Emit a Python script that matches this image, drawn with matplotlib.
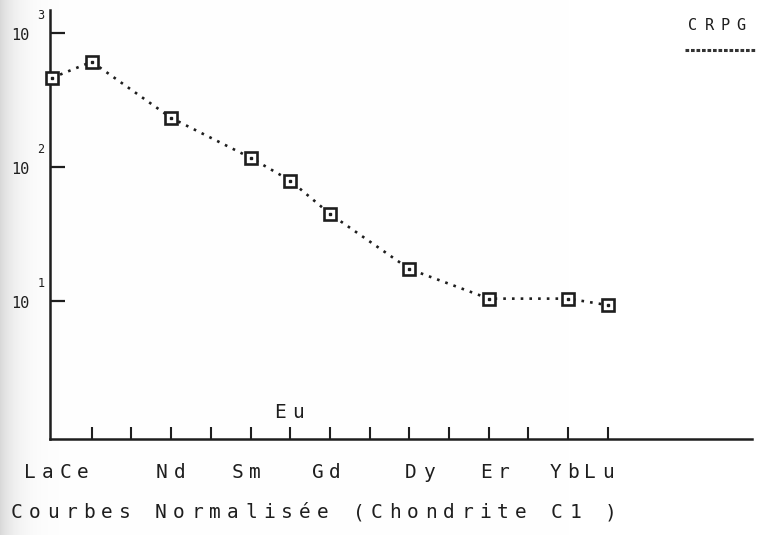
import numpy as np
import matplotlib.pyplot as plt
import matplotlib.transforms as mtransforms
from matplotlib.lines import Line2D

# --- REE normalised to chondrite C1 ---
elements = ['La', 'Ce', 'Nd', 'Sm', 'Eu', 'Gd', 'Dy', 'Er', 'Yb', 'Lu']
atomic_number = [57, 58, 60, 62, 63, 64, 66, 68, 70, 71]
normalised = [461, 608, 232, 117, 79, 44.6, 17.3, 10.4, 10.4, 9.3]

# tick marks along the axis: Ce .. Lu
tick_z = [58, 59, 60, 61, 62, 63, 64, 65, 66, 67, 68, 69, 70, 71]

# plotter labels under the axis (label text, x of first character)
axis_labels = ['LaCe', 'Nd', 'Sm', 'Gd', 'Dy', 'Er', 'YbLu']
axis_label_x = [56.45, 59.77, 61.68, 63.69, 66.04, 67.93, 69.67]

y_ticks = [10, 100, 1000]
y_exponents = ['1', '2', '3']

W, H = 757, 535
INK = '#1e1e1e'
FONT = 'DejaVu Sans Mono'

fig = plt.figure(figsize=(W / 100, H / 100), dpi=100)

# scanned paper: greyish band on the left margin
xs = np.arange(W)
shade = 1 - 0.15 * np.exp(-xs / 16.0)
bg = np.repeat(np.repeat(shade[None, :, None], H, axis=0), 3, axis=2)
fig.figimage(bg, 0, 0, zorder=-5)

ax = fig.add_axes([50 / W, 96 / H, 702 / W, 429 / H])
ax.set_zorder(2)
ax.patch.set_visible(False)
ax.set_yscale('log')
ax.set_xlim(56.95, 74.63)
ax.set_ylim(10 ** -0.03, 10 ** 3.17)

for side in ['top', 'right']:
    ax.spines[side].set_visible(False)
for side in ['left', 'bottom']:
    ax.spines[side].set_linewidth(1.8)
    ax.spines[side].set_color(INK)

ax.set_xticks(tick_z)
ax.set_xticklabels([])
ax.tick_params(axis='x', direction='in', length=8.5, width=1.5, color=INK)
ax.set_yticks(y_ticks)
ax.set_yticklabels([])
ax.yaxis.set_minor_locator(plt.NullLocator())
ax.tick_params(axis='y', direction='in', length=11, width=1.6, color=INK)

# dotted curve + square markers with centre dot
ax.plot(atomic_number, normalised, color=INK, lw=1.9, linestyle=(0, (1, 2.3)),
        zorder=2, clip_on=False)
ax.plot(atomic_number, normalised, linestyle='none', marker='s', ms=9.3,
        mfc='white', mec=INK, mew=1.9, zorder=3, clip_on=False)
ax.plot(atomic_number, normalised, linestyle='none', marker='s', ms=1.6,
        mfc=INK, mec=INK, zorder=4, clip_on=False)


def spaced_text(trans, x, y, s, pitch, size):
    # plotter style lettering: one character per cell
    for i, ch in enumerate(s):
        if ch == ' ':
            continue
        t = mtransforms.offset_copy(trans, fig=fig, x=i * pitch, y=0, units='dots')
        fig.text(x, y, ch, transform=t, ha='center', va='center',
                 fontsize=size, family=FONT, color=INK, zorder=3)


xaxis_tr = ax.get_xaxis_transform()
for lab, x0 in zip(axis_labels, axis_label_x):
    spaced_text(xaxis_tr, x0, -0.077, lab, 17.5, 14)

spaced_text(xaxis_tr, 62.74, 0.061, 'Eu', 18, 14)

# decade labels 10^n
ylab_tr = mtransforms.blended_transform_factory(fig.transFigure, ax.transData)
for val, ex in zip(y_ticks, y_exponents):
    fig.text(20 / W, val, '10', transform=mtransforms.offset_copy(
        ylab_tr, fig=fig, x=0, y=-3, units='dots'),
        ha='center', va='center', fontsize=11, family=FONT, color=INK)
    fig.text(41 / W, val, ex, transform=mtransforms.offset_copy(
        ylab_tr, fig=fig, x=0, y=17, units='dots'),
        ha='center', va='center', fontsize=8.5, family=FONT, color=INK)

# caption
spaced_text(fig.transFigure, 17 / W, 1 - 513 / H,
            'Courbes Normalisée (Chondrite C1 )', 18, 14)

# lab stamp, top right
spaced_text(fig.transFigure, 693 / W, 1 - 25 / H, 'CRPG', 16, 11)
fig.add_artist(Line2D([685 / W, 757 / W], [1 - 50 / H, 1 - 50 / H],
                      transform=fig.transFigure, color='#333333', lw=2.2,
                      linestyle=(0, (1.2, 0.6))))

fig.savefig('out.png', dpi=100)
